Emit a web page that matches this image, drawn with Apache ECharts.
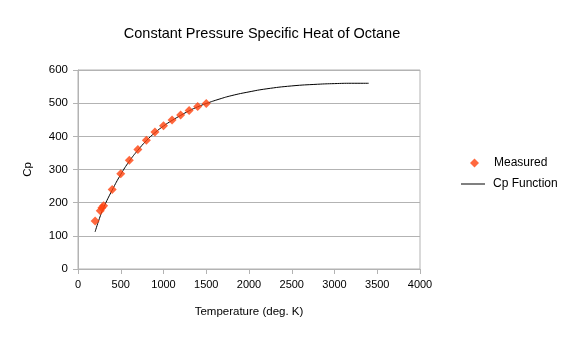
<!DOCTYPE html>
<html>
<head>
<meta charset="utf-8">
<script src="https://cdn.jsdelivr.net/npm/echarts@6/dist/echarts.min.js"></script>
<style>
  html, body { margin: 0; padding: 0; background: #fff; }
  #chart { width: 569px; height: 338px; }
</style>
</head>
<body>
<div id="chart"></div>
<script>
// Measured specific heat of octane (temperature in K, Cp)
const measuredT  = [200, 260, 280, 300, 400, 500, 600, 700, 800, 900, 1000, 1100, 1200, 1300, 1400, 1500];
const measuredCp = [145, 176, 185, 191, 240, 287, 328, 360, 388, 413, 432, 449, 464, 478, 490, 499];

// Fitted Cp function sampled over the temperature range
const fitT  = [200, 250, 300, 400, 500, 600, 700, 800, 900, 1000, 1100, 1200, 1300, 1400, 1500, 1650, 1800, 2000, 2200, 2500, 2800, 3000, 3200, 3400];
const fitCp = [112, 152, 185, 238, 285, 325, 358, 387, 411, 431, 448, 463, 477, 489, 499, 512, 523, 534, 543, 552, 557, 559, 560, 560];

const xTicks = { min: 0, max: 4000, interval: 500 };
const yTicks = { min: 0, max: 600, interval: 100 };

const font = 'Liberation Sans, Arial, sans-serif';
const gridColor = '#b3b3b3';

const chart = echarts.init(document.getElementById('chart'), null, { renderer: 'canvas' });

chart.setOption({
  animation: false,
  backgroundColor: '#ffffff',
  title: {
    text: 'Constant Pressure Specific Heat of Octane',
    left: 257,
    top: 21,
    textAlign: 'center',
    textStyle: { fontFamily: font, fontSize: 14.5, fontWeight: 'normal', color: '#000' }
  },
  grid: {
    left: 78, right: 149, top: 70, bottom: 69, containLabel: false,
    show: true, borderColor: gridColor, borderWidth: 1, backgroundColor: 'transparent'
  },
  legend: [
    {
      data: [{ name: 'Measured', icon: 'diamond' }],
      left: 465, top: 152,
      itemWidth: 9, itemHeight: 9, itemGap: 6,
      textStyle: { fontFamily: font, fontSize: 12, color: '#000', padding: [0, 0, 0, 10] }
    },
    {
      data: [{ name: 'Cp Function', icon: 'rect' }],
      left: 456, top: 173,
      itemWidth: 24, itemHeight: 1, itemGap: 6,
      itemStyle: { color: '#000000' },
      textStyle: { fontFamily: font, fontSize: 12, color: '#000', padding: [0, 0, 0, 3] }
    }
  ],
  xAxis: {
    type: 'value',
    min: xTicks.min, max: xTicks.max, interval: xTicks.interval,
    name: 'Temperature (deg. K)',
    nameLocation: 'middle',
    nameGap: 37,
    nameTextStyle: { fontFamily: font, fontSize: 11.5, color: '#000' },
    axisLine: { show: true, lineStyle: { color: gridColor } },
    axisTick: { show: true, length: 5, lineStyle: { color: gridColor } },
    axisLabel: { fontFamily: font, fontSize: 11, color: '#000', margin: 10, formatter: v => String(v) },
    splitLine: { show: false }
  },
  yAxis: {
    type: 'value',
    min: yTicks.min, max: yTicks.max, interval: yTicks.interval,
    name: 'Cp',
    nameLocation: 'middle',
    nameGap: 44,
    nameRotate: 90,
    nameTextStyle: { fontFamily: font, fontSize: 11.5, color: '#000' },
    axisLine: { show: true, lineStyle: { color: gridColor } },
    axisTick: { show: true, length: 5, lineStyle: { color: gridColor } },
    axisLabel: { fontFamily: font, fontSize: 11.5, color: '#000', margin: 10, formatter: v => String(v) },
    splitLine: { show: true, lineStyle: { color: gridColor, width: 1 } }
  },
  series: [
    {
      name: 'Measured',
      type: 'scatter',
      symbol: 'diamond',
      symbolSize: 9,
      itemStyle: { color: '#ff420e' },
      data: measuredT.map((t, i) => [t, measuredCp[i]]),
      z: 3
    },
    {
      name: 'Cp Function',
      type: 'line',
      smooth: true,
      showSymbol: false,
      lineStyle: { color: '#000000', width: 1 },
      itemStyle: { color: '#000000' },
      data: fitT.map((t, i) => [t, fitCp[i]]),
      z: 2
    }
  ]
});
</script>
</body>
</html>
